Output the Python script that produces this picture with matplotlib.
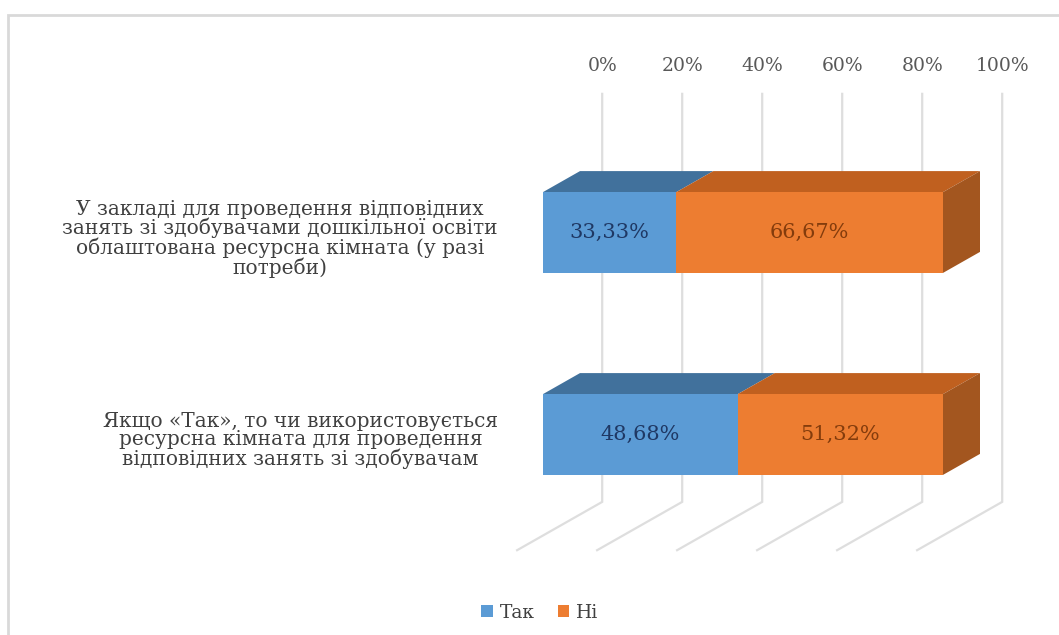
import matplotlib
matplotlib.use("Agg")
import matplotlib.pyplot as plt
from matplotlib.patches import Polygon, Patch, Rectangle

# ---- data ----
categories = [
    "У закладі для проведення відповідних\nзанять зі здобувачами дошкільної освіти\nоблаштована ресурсна кімната (у разі\nпотреби)",
    "Якщо «Так», то чи використовується\nресурсна кімната для проведення\nвідповідних занять зі здобувачам",
]
series_names = ["Так", "Ні"]
tak = [33.33, 48.68]
ni = [66.67, 51.32]
x_ticks = [0, 20, 40, 60, 80, 100]

front_colors = ["#5b9bd5", "#ed7d31"]
top_colors = ["#41719c", "#c0601f"]
side_colors = ["#3f6d97", "#a3561f"]
label_colors = ["#1f3864", "#843c0c"]
grid_color = "#dedede"

plt.rcParams["font.family"] = ["DejaVu Serif"]

W, H = 1059, 635
fig = plt.figure(figsize=(W / 100, H / 100), dpi=100)
ax = fig.add_axes([0, 0, 1, 1])
# x in percent (4 px per %), y in category units (202 px per category)
ax.set_xlim(-543 / 4, (W - 543) / 4)
ax.set_ylim((H - 232.5) / 202, -232.5 / 202)
ax.axis("off")

# oblique depth direction (per unit of bar depth)
DX, DY = 9.25, -0.104
Z_WALL, Z_FLOOR = 1.6, -0.7
CAT_TOP, CAT_BOT = -0.52, 1.5
HALF = 0.2


def proj(p, c, z):
    return (p + z * DX, c + z * DY)


# back wall gridlines + floor lines
for t in x_ticks:
    pts = [proj(t, CAT_TOP, Z_WALL), proj(t, CAT_BOT, Z_WALL), proj(t, CAT_BOT, Z_FLOOR)]
    ax.plot([q[0] for q in pts], [q[1] for q in pts], color=grid_color, lw=1.6,
            solid_joinstyle="miter", zorder=1)
    lx, ly = proj(t, -0.66, Z_WALL)
    ax.text(lx, ly, f"{t}%", ha="center", va="center", fontsize=13.5, color="#595959")

# stacked 3D bars
for i, cat in enumerate(categories):
    c = i
    top, bot = c - HALF, c + HALF
    vals = [tak[i], ni[i]]
    left = 0
    for j, v in enumerate(vals):
        right = left + v
        top_face = [proj(left, top, 0), proj(right, top, 0), proj(right, top, 1), proj(left, top, 1)]
        ax.add_patch(Polygon(top_face, closed=True, fc=top_colors[j], ec="none", zorder=3))
        if j == len(vals) - 1:
            side = [proj(right, top, 0), proj(right, top, 1), proj(right, bot, 1), proj(right, bot, 0)]
            ax.add_patch(Polygon(side, closed=True, fc=side_colors[j], ec="none", zorder=3))
        ax.add_patch(Rectangle((left, top), v, bot - top, fc=front_colors[j], ec="none", zorder=4))
        ax.text(left + v / 2, c, f"{v:.2f}%".replace(".", ","), ha="center", va="center",
                fontsize=15, color=label_colors[j], zorder=5)
        left = right

    ax.text(-11.25, c + 0.03, cat, ha="right", va="center", multialignment="center",
            fontsize=14.5, color="#404040", linespacing=0.95)

# legend
handles = [Patch(fc=front_colors[k], ec="none", label=series_names[k]) for k in range(2)]
fig.legend(handles=handles, loc="center", bbox_to_anchor=(0.51, 1 - 613 / H), ncol=2,
           frameon=False, fontsize=13.5, handlelength=0.6, handleheight=0.6,
           handletextpad=0.4, columnspacing=1.2, labelcolor="#404040")

# chart area border
fig.patches.append(Rectangle((8 / W, -0.1), 1.2, (H - 15) / H + 0.1, transform=fig.transFigure,
                             fill=False, ec="#d9d9d9", lw=2))

fig.savefig("out.png", dpi=100)
